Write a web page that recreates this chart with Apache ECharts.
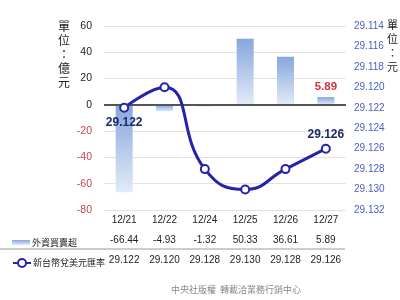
<!DOCTYPE html>
<html>
<head>
<meta charset="utf-8">
<script src="https://cdn.jsdelivr.net/npm/echarts@6/dist/echarts.min.js"></script>
<style>
  html, body { margin: 0; padding: 0; background: #fff; }
  #chart { width: 400px; height: 300px; }
</style>
</head>
<body>
<div id="chart"></div>
<script>
// Trading dates
const dates = ['12/21', '12/22', '12/24', '12/25', '12/26', '12/27'];
// Foreign net buy/sell (NT$ 100 million)
const netBuy = [-66.44, -4.93, -1.32, 50.33, 36.61, 5.89];
// NT dollar / US dollar exchange rate
const fxRate = [29.122, 29.120, 29.128, 29.130, 29.128, 29.126];
// Left axis range and right axis range
const leftTicks = { min: -80, max: 60, step: 20 };
const rightTicks = { min: 29.114, max: 29.132, step: 0.002 };

const barName = '外資買賣超';
const lineName = '新台幣兌美元匯率';
const lineColor = '#2424a8';
const sans = '"Liberation Sans", Arial, sans-serif';
const cjk = '"Noto Sans CJK TC", "Noto Sans CJK SC", sans-serif';

const barGradient = new echarts.graphic.LinearGradient(0, 0, 0, 1, [
  { offset: 0, color: '#86a6dc' },
  { offset: 1, color: '#e2ebf8' }
]);

// Table rows under the plot are extra category axes sharing the same grid
function tableAxis(labels, offset) {
  return {
    type: 'category', data: labels, gridIndex: 0, position: 'bottom', offset: offset,
    axisLine: { show: false }, axisTick: { show: false },
    axisLabel: { interval: 0, color: '#222', fontSize: 10, margin: 5, fontFamily: sans }
  };
}

const chart = echarts.init(document.getElementById('chart'), null, { renderer: 'canvas' });

chart.setOption({
  animation: false,
  backgroundColor: '#ffffff',
  textStyle: { fontFamily: sans },
  grid: { left: 104, right: 54, top: 26, bottom: 90, containLabel: false },
  legend: [
    {
      data: [{ name: barName, icon: 'rect' }],
      left: 7, top: 233, itemWidth: 18, itemHeight: 5, itemGap: 4,
      textStyle: { fontSize: 9, color: '#222', fontFamily: cjk, padding: [0, 0, 0, -3] },
      selectedMode: false
    },
    {
      data: [{ name: lineName }],
      left: 7, top: 253, itemWidth: 18, itemHeight: 10, itemGap: 4,
      textStyle: { fontSize: 9, color: '#222', fontFamily: cjk, padding: [0, 0, 0, -3] },
      selectedMode: false
    }
  ],
  xAxis: [
    tableAxis(dates, 0),
    tableAxis(netBuy.map(v => v.toFixed(2)), 20),
    tableAxis(fxRate.map(v => v.toFixed(3)), 40)
  ],
  yAxis: [
    {
      type: 'value', min: leftTicks.min, max: leftTicks.max, interval: leftTicks.step,
      axisLine: { show: false }, axisTick: { show: false },
      splitLine: { lineStyle: { color: '#e2e2e2', width: 1 } },
      axisLabel: {
        margin: 12, fontSize: 10.5, fontFamily: sans,
        color: v => (v < 0 ? '#c0474a' : '#222')
      }
    },
    {
      type: 'value', inverse: true, position: 'right',
      min: rightTicks.min, max: rightTicks.max, interval: rightTicks.step,
      axisLine: { show: false }, axisTick: { show: false }, splitLine: { show: false },
      axisLabel: {
        margin: 8, fontSize: 10, color: '#4a5fc4', fontFamily: sans,
        formatter: v => v.toFixed(3)
      }
    }
  ],
  series: [
    {
      name: barName, type: 'bar', xAxisIndex: 0, yAxisIndex: 0,
      data: netBuy.map((v, i) => i === netBuy.length - 1
        ? { value: v, label: { show: true, position: 'top', distance: 4, color: '#d0343a', fontWeight: 'bold', fontSize: 11.5, fontFamily: sans, formatter: p => p.value.toFixed(2) } }
        : v),
      barWidth: 17,
      itemStyle: { color: barGradient },
      markLine: {
        silent: true, symbol: 'none',
        label: { show: false },
        lineStyle: { color: '#555', width: 2, type: 'solid' },
        data: [{ yAxis: 0 }]
      },
      z: 2
    },
    {
      name: lineName, type: 'line', xAxisIndex: 0, yAxisIndex: 1,
      data: fxRate.map((v, i) => {
        if (i === 0) return { value: v, label: { show: true, position: 'bottom', distance: 4 } };
        if (i === fxRate.length - 1) return { value: v, label: { show: true, position: 'top', distance: 3 } };
        return v;
      }),
      smooth: 0.5,
      symbol: 'circle', symbolSize: 8, showSymbol: true,
      lineStyle: { color: lineColor, width: 3 },
      itemStyle: { color: '#ffffff', borderColor: lineColor, borderWidth: 2 },
      label: {
        show: false, color: '#1c2a6a', fontWeight: 'bold', fontSize: 12, fontFamily: sans,
        formatter: p => p.value.toFixed(3)
      },
      z: 5
    }
  ],
  graphic: [
    {
      type: 'text', left: 58, top: 19,
      style: { text: '單\n位\n：\n億\n元', fontSize: 12, lineHeight: 14, fill: '#222', fontFamily: cjk, align: 'center' }
    },
    {
      type: 'text', left: 387, top: 18,
      style: { text: '單\n位\n：\n元', fontSize: 11, lineHeight: 14, fill: '#222', fontFamily: cjk, align: 'center' }
    },
    {
      type: 'line', shape: { x1: 0, y1: 249, x2: 345, y2: 249 },
      style: { stroke: '#9a9a9a', lineWidth: 1 }
    },
    {
      type: 'text', left: 171, top: 285,
      style: { text: '中央社版權  轉載洽業務行銷中心', fontSize: 9, fill: '#888', fontFamily: cjk }
    }
  ]
});
</script>
</body>
</html>
